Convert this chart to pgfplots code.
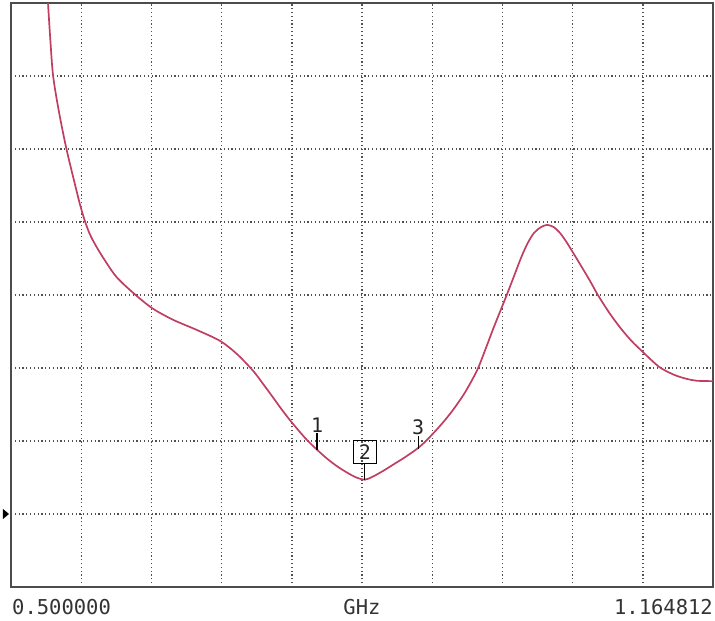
\documentclass[border=0pt]{standalone}
\usepackage{fontspec}
\newfontfamily\mono{DejaVu Sans Mono}
\usepackage{pgfplots}
\pgfplotsset{compat=1.18}
\definecolor{trace}{RGB}{192,62,98}
\definecolor{gridc}{RGB}{80,80,80}
\begin{document}
\begin{tikzpicture}[x=1pt,y=1pt]
\useasboundingbox (0,0) rectangle (715,621);
\begin{axis}[
  at={(11pt,34pt)}, anchor=south west,
  width=702pt, height=584pt, scale only axis,
  xmin=0, xmax=10, ymin=0, ymax=8,
  xtick={1,...,9}, ytick={1,...,7},
  xticklabels={}, yticklabels={},
  major tick length=0pt,
  grid=major,
  major grid style={gridc, line width=1.4pt, dash pattern=on 1.2pt off 2.6pt},
  axis line style={gray!60!black, line width=1.8pt},
  clip=false,
]
\addplot[trace, line width=1.7pt, smooth, tension=0.5] coordinates {
(0.527,8.00) (0.56,7.50) (0.60,7.00) (0.685,6.50) (0.79,6.00) (0.91,5.52)
(0.98,5.25) (1.05,5.02) (1.12,4.84) (1.20,4.69) (1.32,4.50) (1.50,4.25)
(1.74,4.03) (2.01,3.82) (2.31,3.66) (2.65,3.52) (2.98,3.37) (3.22,3.19)
(3.45,2.96) (3.60,2.77) (3.73,2.60) (3.85,2.44) (3.97,2.29) (4.10,2.14)
(4.22,2.01) (4.36,1.88) (4.50,1.76) (4.65,1.65) (4.80,1.56) (4.92,1.50)
(5.04,1.47) (5.15,1.51) (5.30,1.59) (5.45,1.68) (5.60,1.77) (5.78,1.89)
(5.90,1.99) (6.01,2.10) (6.15,2.25) (6.30,2.43) (6.47,2.67) (6.64,2.97)
(6.76,3.26) (6.87,3.54) (6.97,3.78) (7.07,4.02) (7.17,4.27) (7.27,4.52)
(7.36,4.71) (7.45,4.85) (7.55,4.93) (7.64,4.96) (7.73,4.93) (7.82,4.85)
(7.91,4.73) (8.00,4.59) (8.12,4.40) (8.25,4.19) (8.36,4.00) (8.52,3.76)
(8.68,3.55) (8.84,3.37) (9.00,3.22) (9.12,3.11) (9.24,3.01) (9.37,2.94)
(9.49,2.89) (9.63,2.85) (9.77,2.825) (10.00,2.82)
};
% marker ticks
\addplot[black, line width=1.2pt] coordinates {(4.36,1.88) (4.36,2.11)};
\addplot[black, line width=1.2pt] coordinates {(5.04,1.47) (5.04,1.68)};
\addplot[black, line width=1.2pt] coordinates {(5.80,1.89) (5.80,2.07)};
\node[font=\mono\fontsize{20}{20}\selectfont, anchor=south, inner sep=0.5pt, text=gray!30!black] at (axis cs:4.36,2.11) {1};
\node[font=\mono\fontsize{20}{20}\selectfont, anchor=south, inner sep=0.5pt, text=gray!30!black] at (axis cs:5.80,2.08) {3};
\node[font=\mono\fontsize{20}{20}\selectfont, anchor=south, draw, line width=1.3pt, minimum width=23pt, minimum height=23pt, inner sep=1pt, text=gray!30!black] at (axis cs:5.04,1.68) {2};
% reference arrow
\fill[black] (axis cs:0,1) ++(-8pt,5pt) -- ++(6pt,-5pt) -- ++(-6pt,-5pt) -- cycle;
% axis labels
\node[font=\mono\fontsize{20.5}{21}\selectfont, anchor=north west, inner sep=0pt, text=gray!40!black] at (rel axis cs:0,0) [yshift=-12pt, xshift=1pt] {0.500000};
\node[font=\mono\fontsize{20.5}{21}\selectfont, anchor=north, inner sep=0pt, text=gray!40!black] at (rel axis cs:0.5,0) [yshift=-12pt] {GHz};
\node[font=\mono\fontsize{20.5}{21}\selectfont, anchor=north east, inner sep=0pt, text=gray!40!black] at (rel axis cs:1,0) [yshift=-12pt] {1.164812};
\end{axis}
\end{tikzpicture}
\end{document}
